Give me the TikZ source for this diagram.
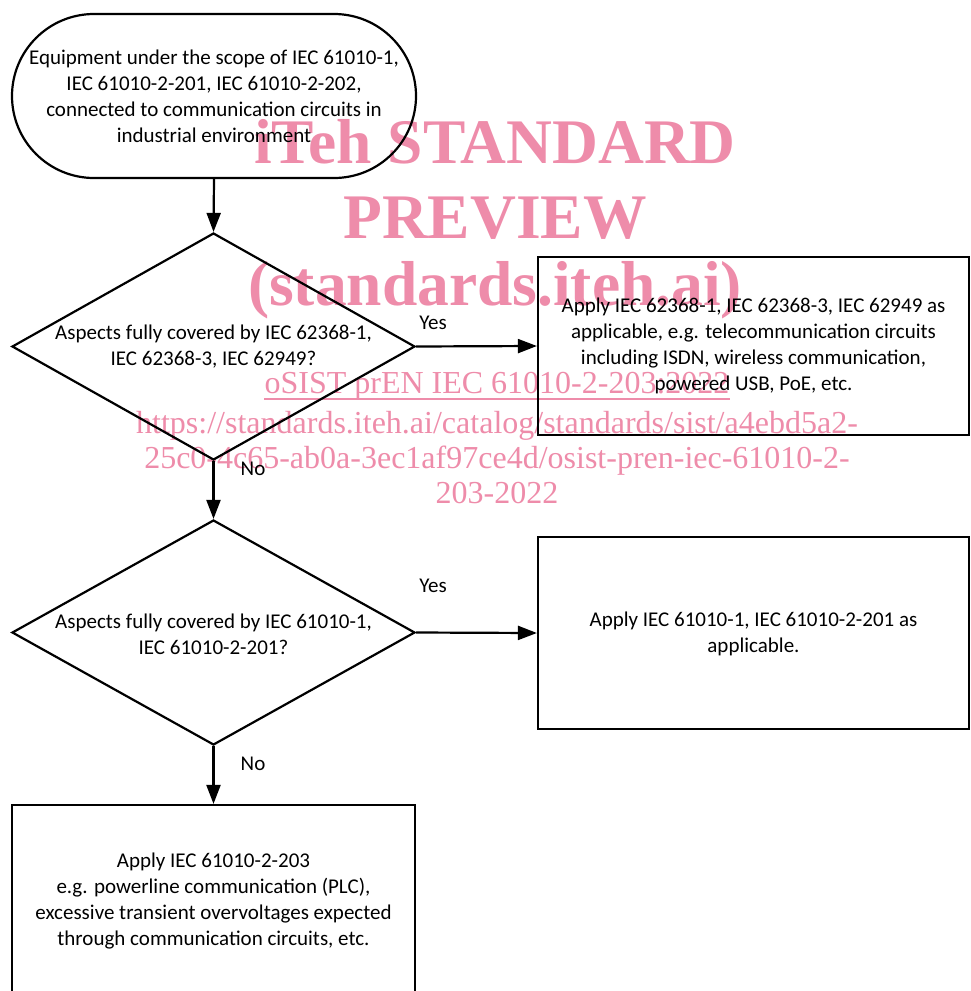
\documentclass[tikz,border=0pt]{standalone}
\usepackage{fontspec}
\setmainfont{Carlito}
\newfontfamily\wmfont{Liberation Serif}
\usetikzlibrary{arrows.meta,shapes.geometric}
\definecolor{wmpink}{RGB}{238,140,170}
\tikzset{
  shp/.style={draw=black, line width=2.2pt},
  txt/.style={align=center, font=\fontsize{21}{26}\selectfont, inner sep=0pt},
  lbl/.style={font=\fontsize{21}{24}\selectfont, inner sep=0pt},
  arr/.style={line width=2.2pt, -{Triangle[length=19pt,width=14pt]}},
  wmbig/.style={text=wmpink, font=\wmfont\bfseries\fontsize{63.5}{75}\selectfont, inner sep=0pt, anchor=base},
  wmsmall/.style={text=wmpink, font=\wmfont\fontsize{32}{35}\selectfont, inner sep=0pt, anchor=base}
}
\begin{document}
\begin{tikzpicture}[x=1pt,y=-1pt]
\useasboundingbox (0,0) rectangle (971,991);
\clip (0,0) rectangle (971,991);
% watermark
\node[wmbig] (w1) at (495,163) {iTeh STANDARD};
\node[wmbig] (w2) at (495,238) {PREVIEW};
\node[wmbig] (w3) at (495,305) {(standards.iteh.ai)};
\node[wmsmall] (w4) at (497,393) {oSIST prEN IEC 61010-2-203:2022};
\draw[wmpink, line width=2.5pt] ([yshift=-6pt]w4.base west) -- ([yshift=-6pt]w4.base east);
\node[wmsmall] (w5) at (497,433) {https://standards.iteh.ai/catalog/standards/sist/a4ebd5a2-};
\node[wmsmall] (w6) at (497,468) {25c0-4c65-ab0a-3ec1af97ce4d/osist-pren-iec-61010-2-};
\node[wmsmall] (w7) at (497,503) {203-2022};
% shapes
\node[shp, rectangle, rounded corners=82pt, minimum width=404pt, minimum height=164pt] (t) at (214,96) {};
\node[txt] (tt) at (214,96) {Equipment under the scope of IEC 61010-1,\\IEC 61010-2-201, IEC 61010-2-202,\\connected to communication circuits in\\industrial environment};
\node[shp, diamond, minimum width=403pt, minimum height=227pt, inner sep=0pt] (d1) at (213.5,346.5) {};
\node[txt] (d1t) at (213.5,346.5) {Aspects fully covered by IEC 62368-1,\\IEC 62368-3, IEC 62949?};
\node[shp, rectangle, minimum width=431pt, minimum height=178pt, inner sep=0pt] (b1) at (753.5,346) {};
\node[txt] (b1t) at (753.5,346) {Apply IEC 62368-1, IEC 62368-3, IEC 62949 as\\applicable, e.g. telecommunication circuits\\including ISDN, wireless communication,\\powered USB, PoE, etc.};
\node[shp, diamond, minimum width=403pt, minimum height=225pt, inner sep=0pt] (d2) at (213.5,632.5) {};
\node[txt] (d2t) at (213.5,634) {Aspects fully covered by IEC 61010-1,\\IEC 61010-2-201?};
\node[shp, rectangle, minimum width=431pt, minimum height=192pt, inner sep=0pt] (b2) at (753.5,633) {};
\node[txt] (b2t) at (753.5,634) {Apply IEC 61010-1, IEC 61010-2-201 as\\applicable.};
\node[shp, rectangle, minimum width=403pt, minimum height=210pt, inner sep=0pt] (b3) at (213.5,910) {};
\node[txt] (b3t) at (213.5,901) {Apply IEC 61010-2-203\\e.g. powerline communication (PLC),\\excessive transient overvoltages expected\\through communication circuits, etc.};
% connectors
\draw[arr] (t.south) -- (d1.north);
\draw[arr] (d1.east) -- (b1.west);
\draw[arr] (d1.south) -- (d2.north);
\draw[arr] (d2.east) -- (b2.west);
\draw[arr] (d2.south) -- (b3.north);
% labels
\node[lbl] (y1) at (433,323) {Yes};
\node[lbl] (n1) at (253,469) {No};
\node[lbl] (y2) at (433,586) {Yes};
\node[lbl] (n2) at (253,764) {No};
\end{tikzpicture}
\end{document}
